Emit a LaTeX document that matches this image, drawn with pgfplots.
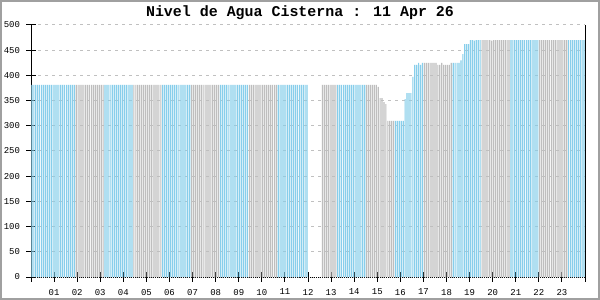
\documentclass[border=0pt]{standalone}
\usepackage{pgfplots}
\pgfplotsset{compat=1.18}
\usepackage{fontspec}
\setmainfont{Liberation Mono}
\definecolor{barblue}{RGB}{135,206,235}
\definecolor{bargrey}{RGB}{190,190,190}
\definecolor{gridgrey}{RGB}{192,192,192}
\definecolor{framegrey}{RGB}{160,160,160}
\begin{document}
\begin{tikzpicture}
\useasboundingbox (0bp,0bp) rectangle (600bp,300bp);
\fill[white] (0bp,0bp) rectangle (600bp,300bp);
\draw[line width=2bp, framegrey] (1bp,1bp) rectangle (599bp,299bp);
\node[font=\bfseries\fontsize{15}{17}\selectfont] at (300bp,287bp) {Nivel de Agua Cisterna : 11 Apr 26};
\begin{axis}[
  at={(31bp,23bp)}, anchor=south west, scale only axis,
  width=554bp, height=252bp,
  xmin=-0.5, xmax=287.5, ymin=0, ymax=500,
  axis x line=bottom, axis y line=left,
  axis line style={-, line width=1bp, black},
  x axis line style={densely dotted},
  xtick={-0.5,11.5,23.5,35.5,47.5,59.5,71.5,83.5,95.5,107.5,119.5,131.5,143.5,155.5,167.5,179.5,191.5,203.5,215.5,227.5,239.5,251.5,263.5,275.5,287.5},
  xticklabels={{},01,02,03,04,05,06,07,08,09,10,11,12,13,14,15,16,17,18,19,20,21,22,23,{}},
  ytick={0,50,...,500},
  tick align=center, major tick length=9bp,
  every tick/.style={black, line width=1bp, solid},
  ymajorgrids, grid style={gridgrey, dash pattern=on 3bp off 4bp, line width=1bp},
  /pgf/number format/assume math mode=true,
  tick label style={font=\fontsize{9}{10}\selectfont},
  yticklabel style={xshift=-3bp},
  xticklabel style={yshift=-4bp},
  clip=false,
]
\addplot[ybar, bar width=0.6, bar shift=0pt, fill=barblue, draw=none] coordinates {
(0,381)(1,381)(2,381)(3,381)(4,381)(5,381)(6,381)(7,381)(8,381)(9,381)(10,381)(11,381)(12,381)(13,381)(14,381)(15,381)(16,381)(17,381)(18,381)(19,381)(20,381)(21,381)(22,381)
(38,381)(39,381)(40,381)(41,381)(42,381)(43,381)(44,381)(45,381)(46,381)(47,381)(48,381)(49,381)(50,381)(51,381)(52,381)
(68,381)(69,381)(70,381)(71,381)(72,381)(73,381)(74,381)(75,381)(76,381)(77,381)(78,381)(79,381)(80,381)(81,381)(82,381)
(98,381)(99,381)(100,381)(101,381)(102,381)(103,381)(104,381)(105,381)(106,381)(107,381)(108,381)(109,381)(110,381)(111,381)(112,381)
(128,381)(129,381)(130,381)(131,381)(132,381)(133,381)(134,381)(135,381)(136,381)(137,381)(138,381)(139,381)(140,381)(141,381)(142,381)(143,381)
(159,381)(160,381)(161,381)(162,381)(163,381)(164,381)(165,381)(166,381)(167,381)(168,381)(169,381)(170,381)(171,381)(172,381)(173,381)
(189,310)(190,310)(191,310)(192,310)(193,310)(194,353)(195,365)(196,365)(197,365)(198,397)(199,421)(200,421)(201,425)(202,421)(203,425)
(219,425)(220,425)(221,425)(222,425)(223,430)(224,442)(225,462)(226,462)(227,462)(228,470)(229,470)(230,469)(231,470)(232,470)(233,470)
(249,470)(250,470)(251,470)(252,470)(253,470)(254,470)(255,470)(256,470)(257,470)(258,470)(259,470)(260,470)(261,470)(262,470)(263,470)
(279,470)(280,470)(281,470)(282,470)(283,470)(284,470)(285,470)(286,470)(287,470)
};
\addplot[ybar, bar width=0.6, bar shift=0pt, fill=bargrey, draw=none] coordinates {
(23,381)(24,381)(25,381)(26,381)(27,381)(28,381)(29,381)(30,381)(31,381)(32,381)(33,381)(34,381)(35,381)(36,381)(37,381)
(53,381)(54,381)(55,381)(56,381)(57,381)(58,381)(59,381)(60,381)(61,381)(62,381)(63,381)(64,381)(65,381)(66,381)(67,381)
(83,381)(84,381)(85,381)(86,381)(87,381)(88,381)(89,381)(90,381)(91,381)(92,381)(93,381)(94,381)(95,381)(96,381)(97,381)
(113,381)(114,381)(115,381)(116,381)(117,381)(118,381)(119,381)(120,381)(121,381)(122,381)(123,381)(124,381)(125,381)(126,381)(127,381)
(151,381)(152,381)(153,381)(154,381)(155,381)(156,381)(157,381)(158,381)
(174,381)(175,381)(176,381)(177,381)(178,381)(179,381)(180,377)(181,355)(182,355)(183,347)(184,343)(185,310)(186,310)(187,310)(188,310)
(204,425)(205,425)(206,425)(207,425)(208,425)(209,425)(210,425)(211,421)(212,421)(213,425)(214,421)(215,421)(216,421)(217,421)(218,425)
(234,470)(235,470)(236,470)(237,470)(238,470)(239,469)(240,470)(241,470)(242,470)(243,470)(244,470)(245,470)(246,470)(247,470)(248,470)
(264,470)(265,470)(266,470)(267,470)(268,470)(269,470)(270,470)(271,470)(272,470)(273,470)(274,470)(275,470)(276,470)(277,470)(278,470)
};
\draw[black, line width=1bp] (rel axis cs:1,0) -- (rel axis cs:1,1);
\end{axis}
\end{tikzpicture}
\end{document}
